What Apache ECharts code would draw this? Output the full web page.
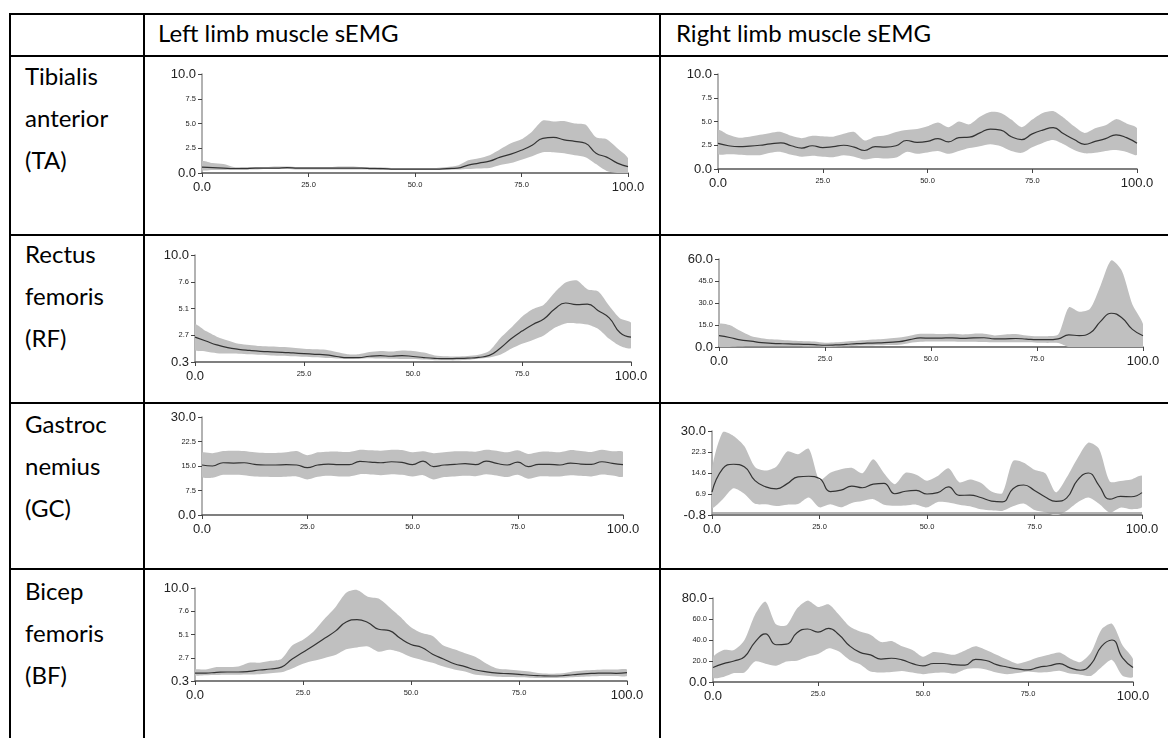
<!DOCTYPE html>
<html>
<head>
<meta charset="utf-8">
<title>Left and right limb muscle sEMG</title>
<script src="https://cdn.jsdelivr.net/npm/echarts@6/dist/echarts.min.js"></script>
<style>
    body { margin: 0; background: #fff; }
    #page { position: relative; width: 1168px; height: 738px; overflow: hidden; font-family: Lato, 'Noto Sans', sans-serif; }
    .h { position: absolute; left: 9px; right: 0; height: 2px; background: #000; }
    .v { position: absolute; top: 13px; bottom: 0; width: 2px; background: #000; }
    .t { position: absolute; font-size: 24px; line-height: 42px; color: #000; white-space: nowrap; }
    #main { position: absolute; left: 0; top: 0; width: 1168px; height: 738px; }
</style>
</head>
<body>
<div id="page">
    <!-- table rules -->
    <div class="h" style="top:13px"></div>
    <div class="h" style="top:55px"></div>
    <div class="h" style="top:234px"></div>
    <div class="h" style="top:402px"></div>
    <div class="h" style="top:568px"></div>
    <div class="v" style="left:9px"></div>
    <div class="v" style="left:143px"></div>
    <div class="v" style="left:659px"></div>

    <!-- header and row names -->
    <div class="t" style="left:158px;top:12px">Left limb muscle sEMG</div>
    <div class="t" style="left:676px;top:12px">Right limb muscle sEMG</div>
    <div class="t" style="left:25px;top:55px">Tibialis<br>anterior<br>(TA)</div>
    <div class="t" style="left:25px;top:233px">Rectus<br>femoris<br>(RF)</div>
    <div class="t" style="left:25px;top:403px">Gastroc<br>nemius<br>(GC)</div>
    <div class="t" style="left:25px;top:570px">Bicep<br>femoris<br>(BF)</div>

    <div id="main"></div>
</div>

<script type="text/javascript">
    // gait cycle (%), sampled every 2.5 %
    var cycle = [0, 2.5, 5, 7.5, 10, 12.5, 15, 17.5, 20, 22.5, 25, 27.5, 30, 32.5, 35, 37.5, 40, 42.5, 45, 47.5,
        50, 52.5, 55, 57.5, 60, 62.5, 65, 67.5, 70, 72.5, 75, 77.5, 80, 82.5, 85, 87.5, 90, 92.5, 95, 97.5, 100];
    var xTicks = [0, 25, 50, 75, 100];
    var xLabels = ['0.0', '25.0', '50.0', '75.0', '100.0'];

    // Tibialis anterior
    var taLeftMean = [0.6, 0.55, 0.5, 0.45, 0.45, 0.5, 0.5, 0.5, 0.55, 0.5, 0.5, 0.5, 0.5, 0.5, 0.5, 0.5, 0.45, 0.45, 0.4, 0.4,
        0.4, 0.4, 0.4, 0.45, 0.5, 0.8, 1.0, 1.2, 1.6, 1.9, 2.3, 2.8, 3.5, 3.6, 3.35, 3.2, 3.0, 2.0, 1.6, 1.0, 0.65];
    var taLeftUpper = [1.2, 1.0, 0.9, 0.6, 0.6, 0.6, 0.6, 0.65, 0.65, 0.6, 0.6, 0.6, 0.6, 0.65, 0.65, 0.6, 0.6, 0.55, 0.5, 0.5,
        0.5, 0.5, 0.5, 0.6, 0.75, 1.3, 1.5, 1.8, 2.4, 3.0, 3.4, 4.2, 5.3, 5.2, 5.25, 5.0, 4.9, 3.6, 3.4, 2.5, 1.5];
    var taLeftLower = [0.3, 0.3, 0.3, 0.35, 0.35, 0.35, 0.4, 0.4, 0.4, 0.35, 0.35, 0.35, 0.35, 0.35, 0.35, 0.35, 0.35, 0.3, 0.3, 0.3,
        0.3, 0.3, 0.3, 0.3, 0.35, 0.4, 0.45, 0.5, 0.8, 1.0, 1.35, 1.7, 2.1, 2.1, 2.0, 1.8, 1.6, 0.9, 0.2, 0.0, 0.0];
    var taRightMean = [2.7, 2.45, 2.35, 2.4, 2.5, 2.65, 2.75, 2.45, 2.2, 2.45, 2.25, 2.35, 2.5, 2.3, 1.95, 2.35, 2.3, 2.45, 3.0, 2.8,
        2.9, 3.2, 2.85, 3.3, 3.35, 3.8, 4.2, 4.1, 3.4, 3.1, 3.7, 4.1, 4.35, 3.7, 3.1, 2.6, 2.9, 3.2, 3.6, 3.3, 2.7];
    var taRightUpper = [4.1, 3.6, 3.3, 3.4, 3.6, 3.8, 3.9, 3.5, 3.25, 3.5, 3.45, 3.4, 3.7, 3.9, 3.0, 3.4, 3.55, 3.9, 4.1, 4.2,
        4.5, 4.9, 4.4, 5.0, 4.7, 5.5, 6.0, 5.9, 5.2, 4.4, 5.2, 5.9, 6.1, 5.4, 4.5, 3.8, 4.3, 4.6, 5.25, 4.8, 4.3];
    var taRightLower = [1.6, 1.55, 1.5, 1.45, 1.45, 1.7, 1.8, 1.5, 1.3, 1.4, 1.3, 1.25, 1.45, 1.3, 1.0, 1.15, 1.1, 1.2, 1.8, 1.6,
        1.75, 1.9, 1.6, 1.9, 2.2, 2.4, 2.6, 2.4, 1.9, 1.7, 2.3, 2.75, 3.05, 2.6, 2.0, 1.65, 1.7, 1.9, 2.0, 1.8, 1.5];

    // Rectus femoris
    var rfLeftMean = [2.55, 2.2, 1.85, 1.6, 1.45, 1.35, 1.27, 1.22, 1.18, 1.12, 1.06, 1.0, 0.95, 0.8, 0.7, 0.7, 0.82, 0.87, 0.82, 0.88,
        0.8, 0.7, 0.63, 0.6, 0.62, 0.65, 0.72, 0.9, 1.55, 2.4, 3.1, 3.7, 4.2, 5.1, 5.65, 5.5, 5.55, 4.95, 4.3, 2.95, 2.55];
    var rfLeftUpper = [3.7, 3.1, 2.6, 2.25, 1.95, 1.85, 1.75, 1.7, 1.65, 1.6, 1.5, 1.45, 1.4, 1.2, 1.0, 1.0, 1.2, 1.3, 1.25, 1.35,
        1.3, 1.15, 0.9, 0.82, 0.8, 0.85, 0.95, 1.3, 2.45, 3.4, 4.4, 5.1, 5.5, 6.6, 7.5, 7.7, 6.9, 6.7, 5.4, 4.25, 3.85];
    var rfLeftLower = [1.4, 1.25, 1.1, 1.06, 1.05, 1.0, 0.95, 0.9, 0.87, 0.82, 0.77, 0.72, 0.66, 0.62, 0.58, 0.6, 0.65, 0.62, 0.6, 0.58,
        0.57, 0.52, 0.46, 0.45, 0.45, 0.5, 0.6, 0.7, 0.95, 1.5, 1.95, 2.3, 2.7, 3.4, 3.8, 3.8, 3.7, 3.3, 2.4, 1.75, 1.57];
    var rfRightMean = [7.7, 6.5, 4.8, 4.0, 3.0, 2.5, 2.2, 2.0, 1.8, 1.6, 1.2, 1.4, 1.8, 2.3, 2.6, 2.8, 3.2, 3.6, 5.0, 6.2,
        6.0, 6.1, 6.2, 5.9, 6.2, 6.3, 5.6, 5.6, 5.8, 5.4, 5.0, 5.0, 5.6, 8.2, 7.8, 9.5, 17.5, 23.0, 20.0, 12.0, 7.7];
    var rfRightUpper = [15.6, 15.0, 11.0, 7.5, 6.0, 5.2, 4.8, 4.3, 4.0, 3.8, 2.9, 3.2, 3.8, 4.3, 4.8, 5.2, 5.8, 6.4, 7.7, 9.0,
        9.0, 8.8, 9.0, 8.6, 9.1, 9.0, 7.9, 8.5, 8.8, 7.8, 7.3, 7.4, 8.5, 27.0, 24.0, 26.0, 42.0, 59.0, 52.0, 29.0, 15.6];
    var rfRightLower = [0, 0, 0.3, 0.5, 0.5, 0.5, 0.5, 0.5, 0.4, 0.3, 0, 0.2, 0.5, 0.9, 1.0, 1.2, 1.4, 1.6, 2.8, 3.6,
        3.8, 3.8, 3.8, 3.6, 3.6, 3.4, 3.2, 3.3, 3.2, 3.2, 2.9, 2.8, 2.7, 0, 0, 0, 0, 0, 0, 0, 0];

    // Gastrocnemius
    var gcLeftMean = [15.3, 15.0, 16.0, 15.9, 16.0, 15.5, 15.3, 15.3, 15.4, 15.3, 14.5, 15.3, 15.6, 15.4, 15.4, 16.4, 16.2, 16.0, 16.3, 16.1,
        15.4, 16.5, 14.8, 15.3, 15.5, 15.7, 15.4, 16.5, 15.8, 15.3, 16.2, 14.8, 15.5, 15.5, 15.3, 15.9, 15.6, 15.5, 16.3, 15.8, 15.4];
    var gcLeftUpper = [19.0, 18.9, 19.6, 19.7, 19.6, 19.2, 19.0, 19.0, 19.2, 19.6, 18.3, 19.2, 19.4, 19.4, 19.3, 20.0, 19.8, 19.7, 20.0, 19.9,
        19.2, 19.5, 18.9, 19.2, 19.5, 19.5, 19.4, 20.0, 19.7, 19.2, 19.8, 18.7, 19.3, 19.4, 19.2, 19.9, 19.6, 19.3, 20.0, 19.5, 19.3];
    var gcLeftLower = [11.7, 11.4, 12.3, 12.3, 12.2, 11.8, 11.7, 11.6, 11.7, 11.8, 10.9, 11.7, 12.0, 11.8, 11.8, 12.5, 12.4, 12.2, 12.5, 12.3,
        11.8, 12.2, 10.9, 11.6, 11.8, 12.0, 11.9, 12.5, 12.1, 11.6, 12.3, 11.1, 11.8, 11.8, 11.8, 12.2, 12.0, 11.8, 12.4, 12.1, 11.8];
    var gcRightMean = [7.6, 16.2, 17.8, 16.9, 11.8, 9.5, 8.8, 10.7, 13.2, 13.4, 12.6, 7.8, 8.3, 9.8, 9.2, 10.5, 10.8, 7.0, 7.9, 8.2,
        6.9, 7.4, 9.5, 6.4, 6.5, 5.6, 4.3, 4.0, 8.8, 10.2, 8.2, 5.8, 4.2, 5.5, 12.0, 14.6, 10.0, 5.0, 6.0, 5.9, 7.4];
    var gcRightUpper = [16, 29.5, 28.2, 24.5, 16.8, 15.5, 17, 22.5, 21.5, 23.5, 12, 14.7, 16, 16.5, 14.5, 19.6, 14.5, 10.5, 14.7, 14,
        11.8, 13.5, 16.3, 11.2, 12.2, 11, 7.8, 7.2, 19, 18.4, 15.8, 14.5, 7.5, 13, 20, 25.7, 23.5, 11.5, 11.7, 12.2, 13.5];
    var gcRightLower = [1.9, 5.0, 9.0, 7.0, 3.3, 3.1, 2.5, 3.0, 3.2, 5.6, 2.0, 3.1, 2.0, 3.6, 4.3, 5.0, 3.0, 2.6, 2.7, 3.0,
        2.0, 4.0, 3.8, 3.0, 2.4, 1.3, 0.9, 0.7, 2.4, 3.4, 1.0, 0.2, -1.0, 0.8, 3.8, 5.6, 3.3, 0.1, 1.9, 1.3, 2.1];

    // Bicep femoris
    var bfLeftMean = [1.13, 1.13, 1.2, 1.24, 1.24, 1.3, 1.45, 1.55, 1.75, 2.6, 3.3, 4.0, 4.75, 5.5, 6.45, 6.7, 6.4, 5.7, 5.55, 4.75,
        4.1, 3.8, 3.1, 2.6, 2.1, 1.8, 1.45, 1.25, 1.12, 1.06, 1.0, 0.9, 0.85, 0.82, 0.85, 0.95, 1.05, 1.1, 1.13, 1.1, 1.17];
    var bfLeftUpper = [1.5, 1.5, 1.75, 1.75, 1.8, 2.2, 2.2, 2.4, 2.6, 4.0, 4.6, 5.5, 6.8, 8.0, 9.5, 9.8, 9.1, 8.9, 8.0, 7.0,
        5.9, 5.3, 5.0, 4.0, 3.6, 3.2, 2.8, 2.1, 1.6, 1.5, 1.4, 1.3, 1.1, 1.05, 1.1, 1.3, 1.4, 1.45, 1.5, 1.5, 1.5];
    var bfLeftLower = [0.9, 0.9, 0.92, 0.94, 0.96, 0.98, 1.0, 1.1, 1.2, 1.6, 2.1, 2.4, 2.7, 3.0, 3.6, 3.8, 3.9, 3.35, 3.55, 3.3,
        2.8, 2.5, 2.2, 1.8, 1.5, 1.3, 0.95, 0.85, 0.75, 0.72, 0.7, 0.65, 0.62, 0.62, 0.65, 0.7, 0.75, 0.8, 0.82, 0.82, 0.82];
    var bfRightMean = [13.8, 17.5, 20, 24, 38, 45.8, 35.5, 36, 47, 50.5, 47.5, 51, 45, 34.5, 28.2, 25.8, 21.8, 22.6, 21, 17.5,
        15.4, 17.6, 17.6, 16.5, 16, 21.5, 20.5, 16.5, 14.3, 12.5, 11.5, 14, 15.5, 17.5, 13.5, 11.2, 17, 34, 40, 23, 13.8];
    var bfRightUpper = [23.4, 30.4, 30.4, 40, 64, 76.5, 55, 54, 70, 77.5, 71.5, 74, 64, 53, 48, 45, 38, 39, 34, 30.5,
        24, 28.5, 27.5, 26, 30, 34, 30.5, 26, 21.5, 17.5, 20, 23.5, 26, 28, 22.5, 19, 28, 50, 55.4, 35, 21.8];
    var bfRightLower = [4.2, 4.8, 8.5, 9.0, 19.5, 17.5, 15.5, 19.5, 20.2, 24, 26.6, 32, 29, 21, 17, 10, 9, 9.5, 10.5, 9,
        7.5, 8.5, 9, 8, 12, 13, 12, 9, 7.4, 8.5, 10, 9, 9.5, 10.6, 8, 7, 5.8, 14, 21, 6, 4.8];

    // y axis ticks of each panel
    var yTicksA = [0, 2.5, 5, 7.5, 10];
    var yLabelsA = ['0.0', '2.5', '5.0', '7.5', '10.0'];
    var yTicksB = [0.3, 2.725, 5.15, 7.575, 10];
    var yLabelsB = ['0.3', '2.7', '5.1', '7.6', '10.0'];
    var yTicksRfR = [0, 15, 30, 45, 60];
    var yLabelsRfR = ['0.0', '15.0', '30.0', '45.0', '60.0'];
    var yTicksGcL = [0, 7.5, 15, 22.5, 30];
    var yLabelsGcL = ['0.0', '7.5', '15.0', '22.5', '30.0'];
    var yTicksGcR = [-0.8, 6.9, 14.6, 22.3, 30];
    var yLabelsGcR = ['-0.8', '6.9', '14.6', '22.3', '30.0'];
    var yTicksBfR = [0, 20, 40, 60, 80];
    var yLabelsBfR = ['0.0', '20.0', '40.0', '60.0', '80.0'];

    // one panel per table cell: [left, top, width, height] of the plot area
    var panels = [
        { box: [202, 74, 426, 99], mean: taLeftMean, up: taLeftUpper, low: taLeftLower, yt: yTicksA, yl: yLabelsA },
        { box: [718, 74, 419, 95], mean: taRightMean, up: taRightUpper, low: taRightLower, yt: yTicksA, yl: yLabelsA },
        { box: [195, 255, 436, 107], mean: rfLeftMean, up: rfLeftUpper, low: rfLeftLower, yt: yTicksB, yl: yLabelsB },
        { box: [719, 259, 424, 88], mean: rfRightMean, up: rfRightUpper, low: rfRightLower, yt: yTicksRfR, yl: yLabelsRfR },
        { box: [202, 417, 421, 98], mean: gcLeftMean, up: gcLeftUpper, low: gcLeftLower, yt: yTicksGcL, yl: yLabelsGcL },
        { box: [712, 431, 430, 84], mean: gcRightMean, up: gcRightUpper, low: gcRightLower, yt: yTicksGcR, yl: yLabelsGcR, zero: true },
        { box: [195, 588, 432, 93], mean: bfLeftMean, up: bfLeftUpper, low: bfLeftLower, yt: yTicksB, yl: yLabelsB },
        { box: [713, 598, 420, 84], mean: bfRightMean, up: bfRightUpper, low: bfRightLower, yt: yTicksBfR, yl: yLabelsBfR }
    ];

    var axisFont = "'Liberation Sans Narrow', 'Liberation Sans', Arial, sans-serif";
    var rich = {
        b: { fontSize: 13, fontFamily: axisFont, color: '#222' },
        s: { fontSize: 7.5, fontFamily: axisFont, color: '#222' }
    };

    // first and last tick labels are large, the inner ones small
    function tickFormatter(ticks, labels) {
        return function (v) {
            var best = 0;
            for (var i = 1; i < ticks.length; i++) {
                if (Math.abs(ticks[i] - v) < Math.abs(ticks[best] - v)) best = i;
            }
            var big = best === 0 || best === ticks.length - 1;
            return '{' + (big ? 'b' : 's') + '|' + labels[best] + '}';
        };
    }

    // grey band between lower and upper bound, drawn as one polygon
    function bandRenderer(p) {
        return function (params, api) {
            if (params.dataIndex !== 0) return;
            var upPts = [], lowPts = [];
            for (var i = 0; i < cycle.length; i++) {
                upPts.push(api.coord([cycle[i], p.up[i]]));
                lowPts.unshift(api.coord([cycle[i], p.low[i]]));
            }
            var cs = params.coordSys;
            return {
                type: 'polygon',
                shape: { points: upPts.concat(lowPts), smooth: 0.25 },
                style: { fill: '#c0c0c0' },
                clipPath: { type: 'rect', shape: { x: cs.x, y: cs.y, width: cs.width, height: cs.height } }
            };
        };
    }

    var myChart = echarts.init(document.getElementById('main'));

    var option = { animation: false, grid: [], xAxis: [], yAxis: [], series: [] };

    panels.forEach(function (p, k) {
        option.grid.push({ left: p.box[0], top: p.box[1], width: p.box[2], height: p.box[3], containLabel: false });
        option.xAxis.push({
            gridIndex: k, type: 'value', min: 0, max: 100,
            axisLine: { onZero: false, lineStyle: { color: '#555', width: 1.5 } },
            axisTick: { show: true, length: 4, customValues: xTicks, lineStyle: { color: '#444' } },
            axisLabel: { customValues: xTicks, margin: 8, formatter: tickFormatter(xTicks, xLabels), rich: rich },
            splitLine: { show: false }
        });
        option.yAxis.push({
            gridIndex: k, type: 'value', min: p.yt[0], max: p.yt[p.yt.length - 1],
            axisLine: { show: true, onZero: false, lineStyle: { color: '#999', width: 1.5 } },
            axisTick: { show: true, length: 4, customValues: p.yt, lineStyle: { color: '#444' } },
            axisLabel: { customValues: p.yt, margin: 6, formatter: tickFormatter(p.yt, p.yl), rich: rich },
            splitLine: { show: false }
        });
        option.series.push({
            type: 'custom', xAxisIndex: k, yAxisIndex: k, silent: true, z: 1,
            data: cycle.map(function (x, i) { return [x, p.low[i], p.up[i]]; }),
            encode: { x: 0, y: [1, 2] },
            renderItem: bandRenderer(p)
        });
        var meanSeries = {
            type: 'line', xAxisIndex: k, yAxisIndex: k, smooth: true, symbol: 'none', silent: true, z: 3,
            lineStyle: { color: '#333', width: 1.2 }, data: cycle.map(function (x, i) { return [x, p.mean[i]]; })
        };
        if (p.zero) {
            meanSeries.markLine = {
                silent: true, symbol: 'none', label: { show: false },
                lineStyle: { color: '#999', width: 1.5, type: 'solid' },
                data: [{ yAxis: 0 }]
            };
        }
        option.series.push(meanSeries);
    });

    myChart.setOption(option);
</script>
</body>
</html>
